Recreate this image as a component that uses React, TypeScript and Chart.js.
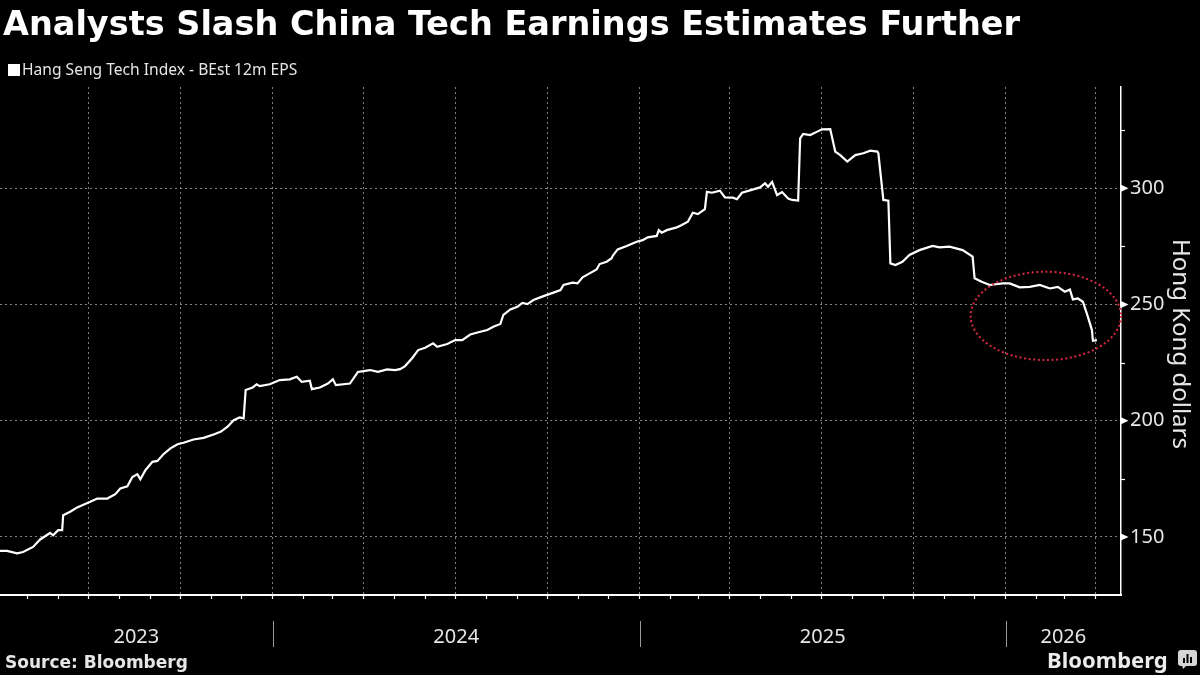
import React, { useEffect, useRef } from 'react';
import { Chart, registerables } from 'chart.js';

Chart.register(...registerables);

const TITLE = 'Analysts Slash China Tech Earnings Estimates Further';
const SERIES_LABEL = 'Hang Seng Tech Index - BEst 12m EPS';
const Y_AXIS_TITLE = 'Hong Kong dollars';
const SOURCE = 'Source: Bloomberg';
const BRAND = 'Bloomberg';

const DATES = [
  '2023-04-04', '2023-04-11', '2023-04-21', '2023-04-27', '2023-05-07', '2023-05-14', '2023-05-24', '2023-05-27',
  '2023-06-01', '2023-06-05', '2023-06-06', '2023-06-13', '2023-06-20', '2023-07-03', '2023-07-10', '2023-07-20',
  '2023-07-28', '2023-08-02', '2023-08-09', '2023-08-14', '2023-08-19', '2023-08-22', '2023-08-27', '2023-09-03',
  '2023-09-08', '2023-09-14', '2023-09-21', '2023-09-28', '2023-10-04', '2023-10-14', '2023-10-24', '2023-11-03',
  '2023-11-10', '2023-11-17', '2023-11-23', '2023-11-29', '2023-12-03', '2023-12-05', '2023-12-12', '2023-12-16',
  '2023-12-19', '2023-12-29', '2024-01-08', '2024-01-18', '2024-01-25', '2024-01-30', '2024-02-07', '2024-02-09',
  '2024-02-17', '2024-02-25', '2024-03-01', '2024-03-04', '2024-03-18', '2024-03-26', '2024-04-07', '2024-04-15',
  '2024-04-24', '2024-05-02', '2024-05-07', '2024-05-12', '2024-05-19', '2024-05-25', '2024-06-01', '2024-06-09',
  '2024-06-13', '2024-06-23', '2024-07-01', '2024-07-08', '2024-07-16', '2024-07-26', '2024-08-02', '2024-08-08',
  '2024-08-15', '2024-08-18', '2024-08-25', '2024-09-01', '2024-09-06', '2024-09-11', '2024-09-17', '2024-09-27',
  '2024-10-07', '2024-10-14', '2024-10-17', '2024-10-26', '2024-10-31', '2024-11-05', '2024-11-12', '2024-11-19',
  '2024-11-22', '2024-11-29', '2024-12-04', '2024-12-05', '2024-12-10', '2024-12-19', '2024-12-29', '2025-01-04',
  '2025-01-09', '2025-01-18', '2025-01-20', '2025-01-23', '2025-01-28', '2025-02-07', '2025-02-12', '2025-02-18',
  '2025-02-23', '2025-02-28', '2025-03-07', '2025-03-09', '2025-03-14', '2025-03-22', '2025-03-27', '2025-04-04',
  '2025-04-08', '2025-04-13', '2025-04-21', '2025-05-01', '2025-05-06', '2025-05-09', '2025-05-13', '2025-05-18',
  '2025-05-23', '2025-05-29', '2025-06-02', '2025-06-08', '2025-06-10', '2025-06-13', '2025-06-20', '2025-06-27',
  '2025-07-02', '2025-07-10', '2025-07-15', '2025-07-20', '2025-07-27', '2025-08-04', '2025-08-12', '2025-08-19',
  '2025-08-26', '2025-08-27', '2025-09-01', '2025-09-06', '2025-09-08', '2025-09-13', '2025-09-20', '2025-09-27',
  '2025-10-07', '2025-10-20', '2025-10-27', '2025-11-06', '2025-11-19', '2025-11-29', '2025-12-01', '2025-12-08',
  '2025-12-16', '2025-12-29', '2026-01-05', '2026-01-15', '2026-01-25', '2026-02-04', '2026-02-14', '2026-02-22',
  '2026-03-01', '2026-03-06', '2026-03-09', '2026-03-14', '2026-03-19', '2026-03-24', '2026-03-28', '2026-03-29',
  '2026-04-02',
];

const EPS = [
  144.0, 144.0, 142.9, 143.5, 145.7, 148.9, 151.7, 150.7,
  152.9, 152.9, 159.3, 160.8, 162.7, 165.1, 166.5, 166.5,
  168.4, 170.8, 171.8, 175.8, 177.0, 174.8, 178.7, 182.3,
  182.7, 185.6, 188.1, 189.9, 190.5, 191.9, 192.6, 194.1,
  195.2, 197.4, 200.2, 201.4, 201.0, 213.2, 214.3, 215.7,
  214.9, 215.7, 217.5, 217.8, 218.9, 216.7, 217.2, 213.6,
  214.3, 216.0, 217.8, 215.3, 216.0, 221.0, 221.8, 221.0,
  222.1, 221.8, 222.2, 223.5, 226.9, 230.4, 231.4, 233.3,
  231.8, 233.0, 234.7, 234.7, 237.1, 238.3, 239.0, 240.4,
  241.6, 245.5, 247.9, 249.0, 250.7, 250.2, 251.9, 253.6,
  255.1, 256.2, 258.4, 259.4, 259.1, 261.7, 263.4, 265.1,
  267.4, 268.4, 269.9, 270.9, 273.7, 275.2, 277.0, 277.7,
  278.9, 279.5, 282.0, 280.9, 282.0, 283.2, 284.2, 285.6,
  289.5, 288.9, 291.0, 298.5, 298.1, 299.0, 296.1, 296.0,
  295.3, 298.1, 299.1, 300.4, 302.2, 300.7, 302.8, 297.1,
  298.4, 295.6, 295.0, 294.7, 321.5, 323.4, 322.9, 324.4,
  325.4, 325.5, 315.8, 314.3, 311.5, 314.3, 315.1, 316.2,
  315.8, 315.1, 295.0, 294.7, 267.7, 267.0, 268.4, 271.3,
  273.4, 275.2, 274.6, 274.9, 273.4, 270.6, 261.3, 259.8,
  258.4, 259.1, 259.1, 257.4, 257.6, 258.4, 256.9, 257.6,
  255.5, 256.5, 252.2, 252.6, 251.2, 244.7, 239.0, 234.4,
  234.7,
];

const X_RANGE = ['2023-04-04', '2026-04-26'];
const Y_MIN = 125;
const Y_MAX = 343.6;
const Y_TICKS = [150, 175, 200, 225, 250, 275, 300, 325];
const Y_LABELED = [150, 200, 250, 300];
const YEAR_LABELS = ['2023', '2024', '2025', '2026'];
const GRID_MONTHS = [1, 4, 7, 10];
const HIGHLIGHT_DATES = ['2025-11-27', '2026-04-26'];
const HIGHLIGHT_VALUES = [226.1, 264.1];

const DAY_MS = 86400000;
const toDay = (s: string) => {
  const [y, m, d] = s.split('-').map(Number);
  return Date.UTC(y, m - 1, d) / DAY_MS;
};

const GRID_COLOR = 'rgba(150,150,150,0.85)';
const TEXT_LIGHT = '#e6e6e6';

function monthStarts(minDay: number, maxDay: number) {
  const out: { day: number; month: number }[] = [];
  const start = new Date(minDay * DAY_MS);
  let y = start.getUTCFullYear();
  let m = start.getUTCMonth();
  for (;;) {
    const day = Date.UTC(y, m, 1) / DAY_MS;
    if (day > maxDay) break;
    if (day > minDay) out.push({ day, month: m + 1 });
    m += 1;
    if (m > 11) { m = 0; y += 1; }
  }
  return out;
}

const decorations = {
  id: 'decorations',
  afterDraw(chart: any) {
    const { ctx, chartArea } = chart;
    const x = chart.scales.x;
    const y = chart.scales.y;
    ctx.save();

    // year labels and separators
    ctx.font = '20px "Noto Sans"';
    ctx.fillStyle = TEXT_LIGHT;
    ctx.textAlign = 'center';
    ctx.textBaseline = 'alphabetic';
    YEAR_LABELS.forEach((label) => {
      const yr = Number(label);
      const s = toDay(`${yr}-01-01`);
      const e = toDay(`${yr + 1}-01-01`);
      const p0 = x.getPixelForValue(Math.max(s, x.min));
      const p1 = x.getPixelForValue(Math.min(e, x.max));
      ctx.fillText(label, (p0 + p1) / 2, chartArea.bottom + 48);
      if (s > x.min) {
        const px = Math.round(x.getPixelForValue(s)) + 0.5;
        ctx.strokeStyle = '#9a9a9a';
        ctx.lineWidth = 1;
        ctx.beginPath();
        ctx.moveTo(px, chartArea.bottom + 26);
        ctx.lineTo(px, chartArea.bottom + 52);
        ctx.stroke();
      }
    });

    // y-axis tick markers
    const ax = chartArea.right;
    ctx.fillStyle = '#ffffff';
    ctx.strokeStyle = '#ffffff';
    ctx.lineWidth = 1.2;
    Y_TICKS.forEach((v) => {
      const py = y.getPixelForValue(v);
      if (Y_LABELED.includes(v)) {
        ctx.beginPath();
        ctx.moveTo(ax, py - 3.5);
        ctx.lineTo(ax + 7.5, py);
        ctx.lineTo(ax, py + 3.5);
        ctx.closePath();
        ctx.fill();
      } else {
        ctx.beginPath();
        ctx.moveTo(ax, Math.round(py) + 0.5);
        ctx.lineTo(ax + 4, Math.round(py) + 0.5);
        ctx.stroke();
      }
    });

    // y-axis title
    ctx.save();
    ctx.translate(1173, (chartArea.top + chartArea.bottom) / 2 + 3);
    ctx.rotate(Math.PI / 2);
    ctx.font = '24px "Noto Sans"';
    ctx.fillStyle = TEXT_LIGHT;
    ctx.textAlign = 'center';
    ctx.textBaseline = 'alphabetic';
    ctx.fillText(Y_AXIS_TITLE, 0, 0);
    ctx.restore();

    // highlight ellipse
    const ex0 = x.getPixelForValue(toDay(HIGHLIGHT_DATES[0]));
    const ex1 = x.getPixelForValue(toDay(HIGHLIGHT_DATES[1]));
    const ey0 = y.getPixelForValue(HIGHLIGHT_VALUES[0]);
    const ey1 = y.getPixelForValue(HIGHLIGHT_VALUES[1]);
    ctx.beginPath();
    ctx.ellipse((ex0 + ex1) / 2, (ey0 + ey1) / 2, Math.abs(ex1 - ex0) / 2, Math.abs(ey0 - ey1) / 2, 0, 0, Math.PI * 2);
    ctx.strokeStyle = '#d8283f';
    ctx.lineWidth = 2;
    ctx.setLineDash([2, 2.6]);
    ctx.stroke();

    ctx.restore();
  },
};

export default function App() {
  const canvasRef = useRef<HTMLCanvasElement>(null);

  useEffect(() => {
    document.body.style.margin = '0';
    document.body.style.background = '#000';
    const minDay = toDay(X_RANGE[0]);
    const maxDay = toDay(X_RANGE[1]);
    const months = monthStarts(minDay, maxDay);
    const quarterDays = months.filter((m) => GRID_MONTHS.includes(m.month)).map((m) => m.day);

    const chart = new Chart(canvasRef.current as HTMLCanvasElement, {
      type: 'line',
      data: {
        datasets: [
          {
            label: SERIES_LABEL,
            data: DATES.map((d, i) => ({ x: toDay(d), y: EPS[i] })),
            borderColor: '#ffffff',
            borderWidth: 2.2,
            pointRadius: 0,
            tension: 0,
            fill: false,
          },
        ],
      },
      options: {
        animation: false,
        responsive: true,
        maintainAspectRatio: false,
        layout: { padding: { top: 87, left: 0, right: 0, bottom: 0 } },
        plugins: {
          legend: { display: false },
          tooltip: { enabled: false },
          title: { display: false },
        },
        scales: {
          x: {
            type: 'linear',
            min: minDay,
            max: maxDay,
            afterBuildTicks: (scale: any) => {
              scale.ticks = months.map((m) => ({ value: m.day }));
            },
            afterFit: (scale: any) => {
              scale.height = 80;
            },
            ticks: { display: false },
            grid: {
              color: (c: any) => (c.tick && quarterDays.includes(c.tick.value) ? GRID_COLOR : 'rgba(0,0,0,0)'),
              lineWidth: 1,
              drawTicks: true,
              tickLength: 4,
              tickColor: '#ffffff',
              tickWidth: 1.2,
              tickBorderDash: [],
            },
            border: { display: true, color: '#ffffff', width: 2, dash: [2, 3] },
          },
          y: {
            type: 'linear',
            position: 'right',
            min: Y_MIN,
            max: Y_MAX,
            afterBuildTicks: (scale: any) => {
              scale.ticks = Y_TICKS.map((v) => ({ value: v }));
            },
            afterFit: (scale: any) => {
              scale.width = 79;
            },
            ticks: {
              color: TEXT_LIGHT,
              font: { family: '"Noto Sans"', size: 20 },
              padding: 9,
              callback: (v: any) => (Y_LABELED.includes(Number(v)) ? String(v) : ''),
            },
            grid: {
              color: (c: any) => (c.tick && Y_LABELED.includes(c.tick.value) ? GRID_COLOR : 'rgba(0,0,0,0)'),
              lineWidth: 1,
              drawTicks: false,
            },
            border: { display: true, color: '#ffffff', width: 1.5, dash: [2, 3] },
          },
        },
      },
      plugins: [decorations],
    } as any);

    return () => chart.destroy();
  }, []);

  return (
    <div style={{ position: 'relative', width: 1200, height: 675, background: '#000', overflow: 'hidden' }}>
      <div style={{ position: 'absolute', left: 0, top: 0, width: 1200, height: 675 }}>
        <canvas ref={canvasRef} />
      </div>
      <div
        style={{
          position: 'absolute', left: 3, top: 6.7, whiteSpace: 'nowrap', color: '#ffffff',
          font: 'bold 33.5px "DejaVu Sans"', lineHeight: '33.5px',
        }}
      >
        {TITLE}
      </div>
      <div style={{ position: 'absolute', left: 8, top: 64, width: 12, height: 12, background: '#ffffff' }} />
      <div
        style={{
          position: 'absolute', left: 22, top: 62, whiteSpace: 'nowrap', color: TEXT_LIGHT,
          font: '15.6px "Noto Sans"', lineHeight: '15.6px',
        }}
      >
        {SERIES_LABEL}
      </div>
      <div
        style={{
          position: 'absolute', left: 5, top: 653.6, whiteSpace: 'nowrap', color: TEXT_LIGHT,
          font: 'bold 17px "DejaVu Sans"', lineHeight: '17px',
        }}
      >
        {SOURCE}
      </div>
      <div
        style={{
          position: 'absolute', left: 1047, top: 647.8, whiteSpace: 'nowrap', color: '#ececec',
          font: 'bold 22px "Noto Sans"', lineHeight: '22px',
        }}
      >
        {BRAND}
      </div>
      <svg style={{ position: 'absolute', left: 1178, top: 650 }} width="19" height="20" viewBox="0 0 19 20">
        <rect x="0" y="0" width="19" height="16" rx="3" fill="#d6d6d6" />
        <polygon points="4,15 9,15 5,19" fill="#d6d6d6" />
        <rect x="5" y="8" width="2" height="5" fill="#000" />
        <rect x="8.5" y="4" width="2" height="9" fill="#000" />
        <rect x="12" y="7" width="2" height="6" fill="#000" />
      </svg>
    </div>
  );
}
